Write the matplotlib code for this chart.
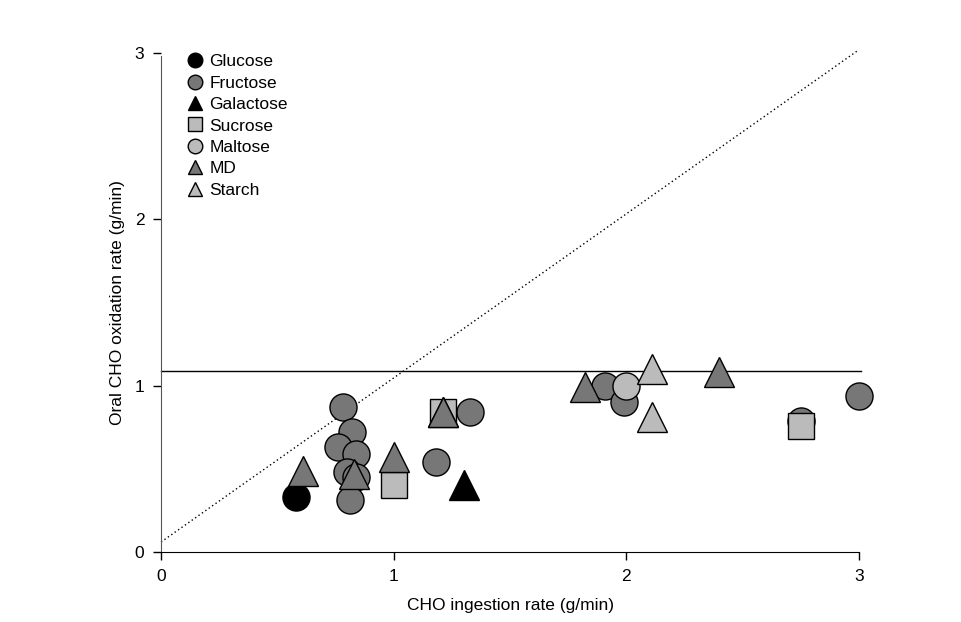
import matplotlib.pyplot as plt

plt.rcParams['font.family'] = ['Liberation Sans', 'DejaVu Sans']

# ingestion (x) vs oxidation (y), g/min
glucose_x = [0.58]
glucose_y = [0.33]
fructose_x = [0.78, 0.82, 0.76, 0.84, 0.80, 0.84, 0.81, 1.18, 1.33, 1.91, 1.99, 2.75, 3.00]
fructose_y = [0.87, 0.72, 0.63, 0.59, 0.48, 0.45, 0.31, 0.54, 0.84, 1.00, 0.90, 0.79, 0.94]
galactose_x = [1.30]
galactose_y = [0.40]
sucrose_x = [1.21, 1.00, 2.75]
sucrose_y = [0.84, 0.40, 0.76]
maltose_x = [2.00]
maltose_y = [1.00]
md_x = [0.61, 0.83, 1.00, 1.21, 1.82, 2.40]
md_y = [0.49, 0.47, 0.57, 0.84, 0.99, 1.08]
starch_x = [2.11, 2.11]
starch_y = [1.10, 0.81]

plateau = 1.09
line_x = [0, 3]
line_y = [0.06, 3.02]

dark = '#777777'
light = '#bbbbbb'
fs = 12.5

fig = plt.figure(figsize=(9.62, 6.22), dpi=100)
ax = fig.add_axes([0.1674, 0.1125, 0.7256, 0.8023])

ax.plot(line_x, line_y, color='black', ls=(0, (1, 2)), lw=1, zorder=1, clip_on=False)
ax.plot([0, 3.01], [plateau, plateau], color='black', lw=1, zorder=1, clip_on=False)

ms = 19.5
kw = dict(ls='none', mec='black', mew=1, zorder=3, clip_on=False)
series = [
    ('Glucose', glucose_x, glucose_y, 'o', 'black', ms),
    ('Fructose', fructose_x, fructose_y, 'o', dark, ms),
    ('Galactose', galactose_x, galactose_y, '^', 'black', ms * 1.08),
    ('Sucrose', sucrose_x, sucrose_y, 's', light, ms * 0.95),
    ('Maltose', maltose_x, maltose_y, 'o', light, ms),
    ('MD', md_x, md_y, '^', dark, ms * 1.08),
    ('Starch', starch_x, starch_y, '^', light, ms * 1.08),
]
handles = []
for name, xs, ys, mk, col, size in series:
    ax.plot(xs, ys, marker=mk, mfc=col, ms=size, **kw)
    h, = ax.plot([], [], marker=mk, mfc=col, ms=10.5, ls='none', mec='black', mew=1)
    handles.append((h, name))

# MD triangle drawn on top of the sucrose square
ax.plot([md_x[3]], [md_y[3]], marker='^', mfc=dark, ms=ms * 1.08, **kw)

ax.legend([h for h, _ in handles], [n for _, n in handles], loc='upper left',
          bbox_to_anchor=(0.013, 1.022), frameon=False, fontsize=fs,
          handletextpad=0.05, labelspacing=0.36, handlelength=1.5,
          borderaxespad=0.3)

ax.set_xlim(0, 3)
ax.set_ylim(0, 3)
ax.set_xticks([0, 1, 2, 3])
ax.set_yticks([0, 1, 2, 3])
ax.tick_params(direction='out', length=6, width=1, labelsize=fs, pad=6)
ax.spines['top'].set_visible(False)
ax.spines['right'].set_visible(False)
ax.spines['left'].set_color('#555555')
ax.spines['left'].set_bounds(0, 2.98)
ax.set_xlabel('CHO ingestion rate (g/min)', fontsize=fs, labelpad=10)
ax.set_ylabel('Oral CHO oxidation rate (g/min)', fontsize=fs, labelpad=7)

fig.savefig('out.png', dpi=100)
